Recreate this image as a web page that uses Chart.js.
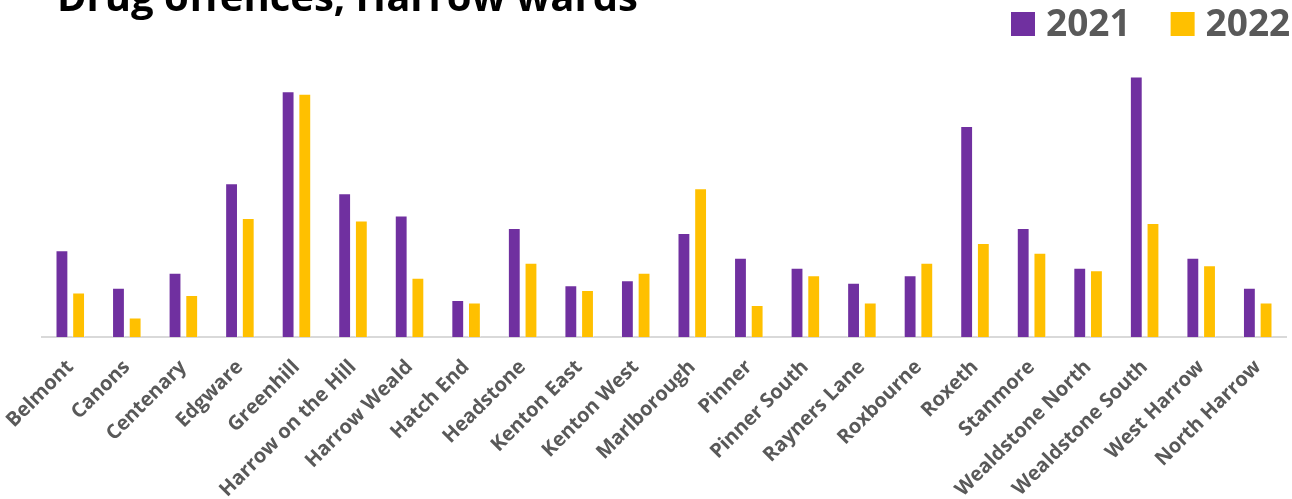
<!DOCTYPE html>
<html>
<head>
<meta charset="utf-8">
<script src="https://cdn.jsdelivr.net/npm/chart.js@4"></script>
<style>
  html, body { margin: 0; padding: 0; background: #fff; }
  #wrap { width: 1292px; height: 499px; position: relative; overflow: hidden; }
</style>
</head>
<body>
<div id="wrap"><canvas id="chart"></canvas></div>
<script>
const WARDS = [
    "Belmont", "Canons", "Centenary", "Edgware", "Greenhill",
    "Harrow on the Hill", "Harrow Weald", "Hatch End", "Headstone",
    "Kenton East", "Kenton West", "Marlborough", "Pinner", "Pinner South",
    "Rayners Lane", "Roxbourne", "Roxeth", "Stanmore", "Wealdstone North",
    "Wealdstone South", "West Harrow", "North Harrow",
];
const Y2021 = [35, 20, 26, 62, 99, 58, 49, 15, 44, 21, 23, 42, 32, 28, 22, 25, 85, 44, 28, 105, 32, 20];
const Y2022 = [18, 8, 17, 48, 98, 47, 24, 14, 30, 19, 26, 60, 13, 25, 14, 30, 38, 34, 27, 46, 29, 14];

const PURPLE = '#7030A0';
const GOLD = '#FFC000';
const GREY = '#595959';
const FONT = '"Open Sans", sans-serif';

// title sits partly above the canvas edge, like the original export
const titlePlugin = {
    id: 'cutTitle',
    afterDraw(chart) {
        const c = chart.ctx;
        c.save();
        c.font = 'bold 40px ' + FONT;
        c.fillStyle = '#000';
        c.textAlign = 'left';
        c.textBaseline = 'alphabetic';
        c.fillText('Drug offences, Harrow wards', 57, 11);
        c.restore();
    }
};

// legend with wide gaps between items (built-in one can't space them apart)
const legendPlugin = {
    id: 'wideLegend',
    afterDraw(chart) {
        const c = chart.ctx;
        c.save();
        c.font = 'bold 37px ' + FONT;
        c.textBaseline = 'alphabetic';
        let x = 1011;
        chart.data.datasets.forEach(ds => {
            c.fillStyle = ds.backgroundColor;
            c.fillRect(x, 12, 24, 24);
            c.fillStyle = GREY;
            c.fillText(ds.label, x + 35, 36);
            x += 35 + c.measureText(ds.label).width + 40;
        });
        c.restore();
    }
};

new Chart(document.getElementById('chart'), {
    type: 'bar',
    data: {
        labels: WARDS,
        datasets: [
            { label: '2021', data: Y2021, backgroundColor: PURPLE, borderColor: 'rgba(255,255,255,0.45)', borderWidth: 1 },
            { label: '2022', data: Y2022, backgroundColor: GOLD, borderColor: 'rgba(255,255,255,0.45)', borderWidth: 1 },
        ]
    },
    options: {
        responsive: true,
        maintainAspectRatio: false,
        animation: false,
        categoryPercentage: 0.59,
        barPercentage: 0.77,
        layout: { padding: { left: 42, right: 6, top: 64, bottom: -13 } },
        plugins: {
            title: { display: false },
            tooltip: { enabled: false },
            legend: { display: false }
        },
        scales: {
            x: {
                grid: { display: false },
                border: { color: '#d9d9d9', width: 2 },
                ticks: {
                    color: GREY,
                    font: { family: FONT, size: 20, weight: 'bold' },
                    minRotation: 45,
                    maxRotation: 45,
                    autoSkip: false,
                    padding: 10,
                },
                // let the rotated labels hang past the edge instead of shrinking the plot
                afterFit(scale) {
                    scale.paddingLeft = 0;
                    scale.paddingRight = 0;
                }
            },
            y: {
                display: false,
                min: 0,
                max: 110,
            }
        }
    },
    plugins: [titlePlugin, legendPlugin]
});
</script>
</body>
</html>
